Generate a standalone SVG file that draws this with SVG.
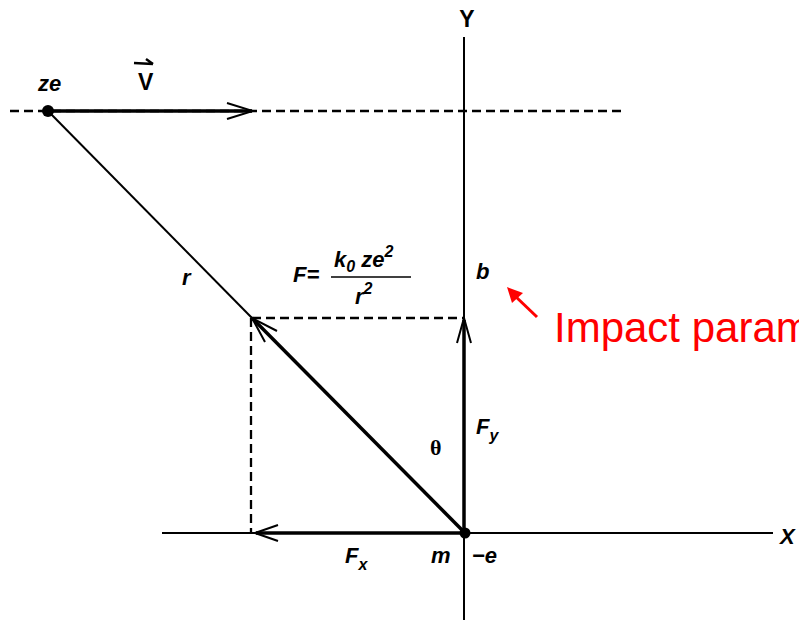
<svg xmlns="http://www.w3.org/2000/svg" width="799" height="621" viewBox="0 0 799 621">
<style>
.thin{stroke:#000;stroke-width:2;fill:none}
.thick{stroke:#000;stroke-width:3.5;fill:none}
.dash{stroke:#000;stroke-width:2.3;fill:none;stroke-dasharray:9 5}
.head{stroke:#000;stroke-width:2;fill:none;stroke-linejoin:miter}
.lbl{font-family:"Liberation Sans",Arial,sans-serif;font-style:italic;font-weight:bold;font-size:22px;fill:#000}
.up{font-family:"Liberation Sans",Arial,sans-serif;font-weight:bold;font-size:23px;fill:#000}
.sub{font-size:16px}
.ser{font-family:"Liberation Serif","Times New Roman",serif;font-weight:bold;font-size:22px;fill:#000}
</style>
<rect width="799" height="621" fill="#fff"/>
<g id="connectors">
  <line class="dash" x1="10" y1="111" x2="623" y2="111"/>
  <line class="thick" x1="48" y1="111" x2="252" y2="111"/>
  <polyline class="head" points="227,103 253,111 227,119"/>
  <line class="thin" x1="464" y1="37" x2="464" y2="620"/>
  <line class="thick" x1="464" y1="320" x2="464" y2="533"/>
  <polyline class="head" points="457,343 464,318 471,343"/>
  <line class="thin" x1="162" y1="533" x2="773" y2="533"/>
  <line class="thick" x1="256" y1="533" x2="464" y2="533"/>
  <polyline class="head" points="278,525 255,533 278,541"/>
  <line class="thin" x1="48" y1="111" x2="252" y2="318"/>
  <line class="thick" x1="252" y1="318" x2="465" y2="533"/>
  <polyline class="head" points="277,331 252,318 265,342"/>
  <line class="dash" x1="252" y1="318" x2="464" y2="318"/>
  <line class="dash" x1="251" y1="318" x2="251" y2="533"/>
  <line x1="537" y1="317" x2="514" y2="295" stroke="#f00" stroke-width="3"/>
  <polygon points="507,287 523,293 512,303" fill="#f00"/>
</g>
<g id="node-ze">
  <circle cx="48" cy="111" r="6" fill="#000"/>
  <text class="lbl" x="38" y="91">ze</text>
</g>
<g id="node-v">
  <text class="up" x="138" y="90">V</text>
  <path d="M134 63 L153 64 M146 59 L153 64" stroke="#000" stroke-width="2.5" fill="none"/>
</g>
<g id="node-m">
  <circle cx="465" cy="533" r="5.5" fill="#000"/>
  <text class="lbl" x="431" y="563">m</text>
  <text class="lbl" x="472" y="563">−e</text>
</g>
<g id="axis-labels">
  <text class="up" x="467" y="27" text-anchor="middle">Y</text>
  <text class="lbl" x="780" y="544">X</text>
</g>
<g id="label-r">
  <text class="lbl" x="182" y="285">r</text>
</g>
<g id="label-F">
  <text class="lbl" x="293" y="282">F=</text>
  <text class="lbl" x="334" y="267">k<tspan class="sub" dy="5">0</tspan><tspan dy="-5"> ze</tspan><tspan class="sub" dy="-10">2</tspan></text>
  <line x1="331" y1="277" x2="411" y2="277" stroke="#000" stroke-width="1.5"/>
  <text class="lbl" x="355" y="304">r<tspan class="sub" dy="-10">2</tspan></text>
</g>
<g id="label-b">
  <text class="lbl" x="476" y="279">b</text>
</g>
<g id="label-theta">
  <text class="ser" x="430" y="455">θ</text>
</g>
<g id="label-Fy">
  <text class="lbl" x="476" y="434">F<tspan class="sub" dy="7">y</tspan></text>
</g>
<g id="label-Fx">
  <text class="lbl" x="345" y="563">F<tspan class="sub" dy="7">x</tspan></text>
</g>
<g id="note">
  <text x="554" y="342" font-family="Liberation Sans,Arial,sans-serif" font-size="42" fill="#f00">Impact param</text>
</g>
</svg>
